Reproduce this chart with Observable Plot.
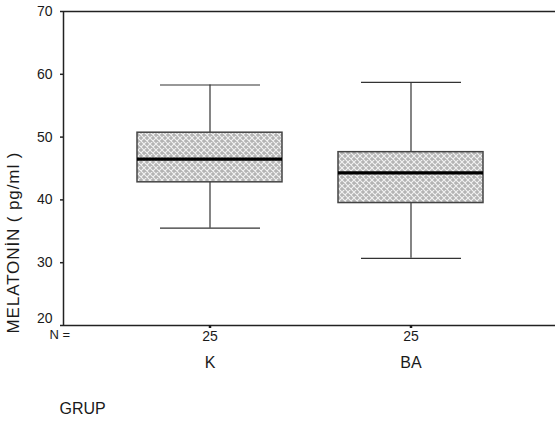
<!DOCTYPE html>
<html>
<head>
<meta charset="utf-8">
<script src="https://cdn.jsdelivr.net/npm/d3@7"></script>
<script src="https://cdn.jsdelivr.net/npm/@observablehq/plot@0.6"></script>
<style>
  html, body { margin: 0; padding: 0; background: #fff; }
  #chart svg { display: block; }
</style>
</head>
<body>
<div id="chart"></div>
<script>
// Data
const groups = ["K", "BA"];
const counts = [25, 25];
const whiskerLow = [35.5, 30.7];
const q1 = [42.8, 39.5];
const median = [46.5, 44.3];
const q3 = [50.7, 47.6];
const whiskerHigh = [58.3, 58.7];
const yTicks = [20, 30, 40, 50, 60, 70];
const yLabel = "MELATONİN ( pg/ml )";
const xLabel = "GRUP";
const nLabel = "N =";

const rows = groups.map((g, i) => ({
  group: g, n: counts[i], lo: whiskerLow[i], q1: q1[i], med: median[i], q3: q3[i], hi: whiskerHigh[i]
}));
const nByGroup = new Map(groups.map((g, i) => [g, counts[i]]));

const font = "'Liberation Sans', Arial, sans-serif";
const ink = "#1a1a1a";

const W = 555, H = 426, mT = 11, mL = 63, mR = 0, mB = 101;
const fw = W - mL - mR;

const chart = Plot.plot({
  width: W,
  height: H,
  marginTop: mT,
  marginLeft: mL,
  marginRight: mR,
  marginBottom: mB,
  style: { fontFamily: font, color: ink, background: "#fff" },
  x: { type: "band", domain: groups, range: [109.5, 511.5], paddingInner: 0.2786, paddingOuter: 0.1393 },
  y: { domain: [20, 70] },
  marks: [
    // whiskers
    Plot.ruleX(rows, { x: "group", y1: "lo", y2: "q1", stroke: "#333", strokeWidth: 1.2 }),
    Plot.ruleX(rows, { x: "group", y1: "q3", y2: "hi", stroke: "#333", strokeWidth: 1.2 }),
    Plot.tickY(rows, { x: "group", y: "lo", stroke: "#333", strokeWidth: 1.2, insetLeft: 23, insetRight: 22 }),
    Plot.tickY(rows, { x: "group", y: "hi", stroke: "#333", strokeWidth: 1.2, insetLeft: 23, insetRight: 22 }),
    // boxes
    Plot.barY(rows, { x: "group", y1: "q1", y2: "q3", fill: "url(#hatch)", stroke: "#444", strokeWidth: 1.5 }),
    Plot.tickY(rows, { x: "group", y: "med", stroke: "#000", strokeWidth: 3.2 }),
    // open frame: top and bottom rules, left axis line
    Plot.ruleY([70], { stroke: "#222", strokeWidth: 1.5 }),
    Plot.ruleY([20], { stroke: "#222", strokeWidth: 1.5 }),
    Plot.ruleX([0], { x: null, y1: 20, y2: 70, dx: -fw / 2, stroke: "#222", strokeWidth: 1.5 }),
    Plot.axisY({ ticks: yTicks, tickSize: 3, tickPadding: 8, fontSize: 14, stroke: "#222", strokeWidth: 1.5, label: null, tickFormat: d => d === 20 ? "" : d }),
    Plot.axisY({ ticks: [20], tickSize: 0, tickPadding: 11, dy: -7, fontSize: 14, label: null, tickFormat: d => d }),
    // x axis: counts then group names
    Plot.axisX({ tickSize: 3, tickPadding: 3, fontSize: 14, strokeWidth: 2.5, tickFormat: g => nByGroup.get(g), label: null }),
    Plot.axisX({ tickSize: 0, tickPadding: 31, fontSize: 16, label: null }),
    // text labels
    Plot.text([nLabel], { frameAnchor: "bottom-left", textAnchor: "start", dx: -14, dy: 13, fontSize: 13, fill: ink }),
    Plot.text([xLabel], { frameAnchor: "bottom-left", textAnchor: "start", dx: -4, dy: 88, fontSize: 16, fill: ink }),
    Plot.text([yLabel], { frameAnchor: "bottom-left", textAnchor: "start", rotate: -90, dx: -45, dy: 8, fontSize: 17, fill: ink })
  ]
});

// crosshatch pattern used as the box fill
const svg = d3.select(chart);
const defs = svg.insert("defs", ":first-child");
const pat = defs.append("pattern")
  .attr("id", "hatch").attr("patternUnits", "userSpaceOnUse")
  .attr("width", 6).attr("height", 6);
pat.append("rect").attr("width", 6).attr("height", 6).attr("fill", "#b4b4b4");
pat.append("path").attr("d", "M0,0L6,6M6,0L0,6M-1,5L1,7M5,-1L7,1M-1,1L1,-1M5,7L7,5")
  .attr("stroke", "#f2f2f2").attr("stroke-width", 1.1);
svg.selectAll("text").filter(function() { return this.textContent === yLabel; }).style("letter-spacing", "0.9px");

document.getElementById("chart").appendChild(chart);
</script>
</body>
</html>
